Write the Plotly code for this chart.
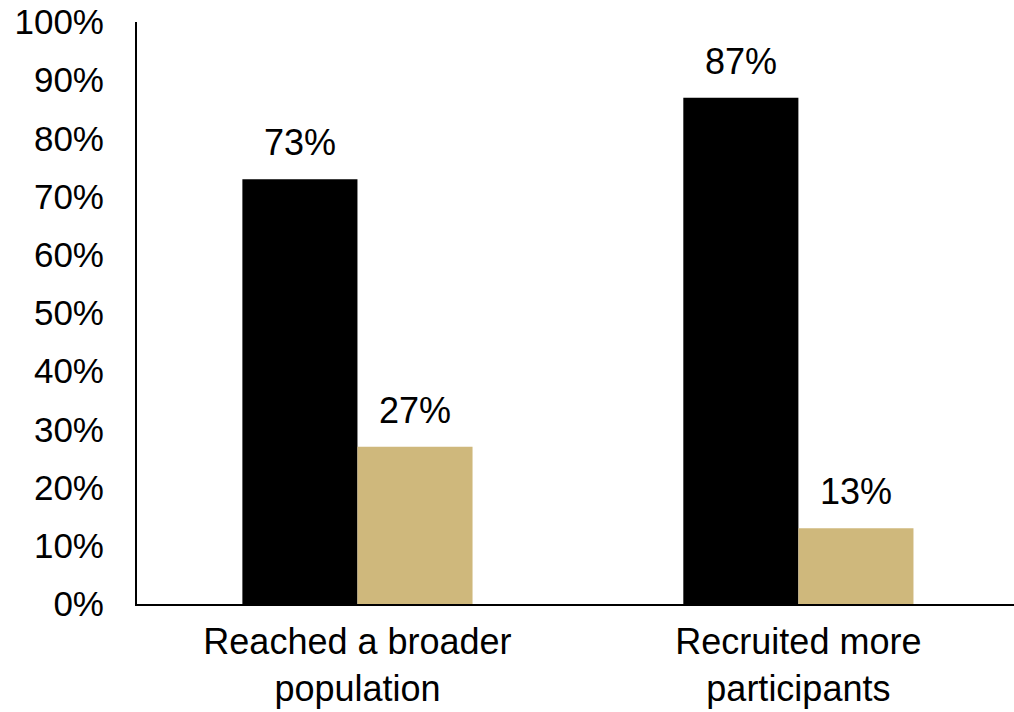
import plotly.graph_objects as go

categories = ["Reached a broader<br>population", "Recruited more<br>participants"]
series_a = [0.73, 0.87]
series_b = [0.27, 0.13]
y_ticks = [0, 0.1, 0.2, 0.3, 0.4, 0.5, 0.6, 0.7, 0.8, 0.9, 1.0]

FONT = "Liberation Sans, Arial, sans-serif"
BAR_W = 0.261
xs = list(range(len(categories)))

fig = go.Figure()
fig.add_trace(go.Bar(x=xs, y=series_a, width=BAR_W, offset=-BAR_W,
                     marker=dict(color="#000000", line=dict(width=0)), name="A"))
fig.add_trace(go.Bar(x=xs, y=series_b, width=BAR_W, offset=0,
                     marker=dict(color="#CFB87C", line=dict(width=0)), name="B"))

for i in xs:
    for val, off in ((series_a[i], -BAR_W / 2), (series_b[i], BAR_W / 2)):
        fig.add_annotation(x=i + off, y=val, text=f"{round(val*100)}%",
                           showarrow=False, yanchor="bottom", yshift=14,
                           font=dict(family=FONT, size=36, color="#000000"))

fig.update_layout(
    width=1014, height=712,
    margin=dict(l=137, r=0, t=22, b=108),
    plot_bgcolor="white", paper_bgcolor="white",
    showlegend=False,
    font=dict(family=FONT, size=35, color="#000000"),
)
fig.update_xaxes(range=[-0.5, 1.489], tickvals=xs, ticktext=categories,
                 showline=True, linecolor="#000000", linewidth=2,
                 ticks="", showgrid=False, zeroline=False, automargin=False,
                 ticklabelstandoff=5,
                 tickfont=dict(family=FONT, size=36, color="#000000"))
fig.update_yaxes(range=[0, 1], tickvals=y_ticks, tickformat=".0%",
                 showline=True, linecolor="#000000", linewidth=2,
                 ticks="", showgrid=False, zeroline=False, automargin=False,
                 ticklabelstandoff=24,
                 tickfont=dict(family=FONT, size=35, color="#000000"))

fig.write_html("out.html")
